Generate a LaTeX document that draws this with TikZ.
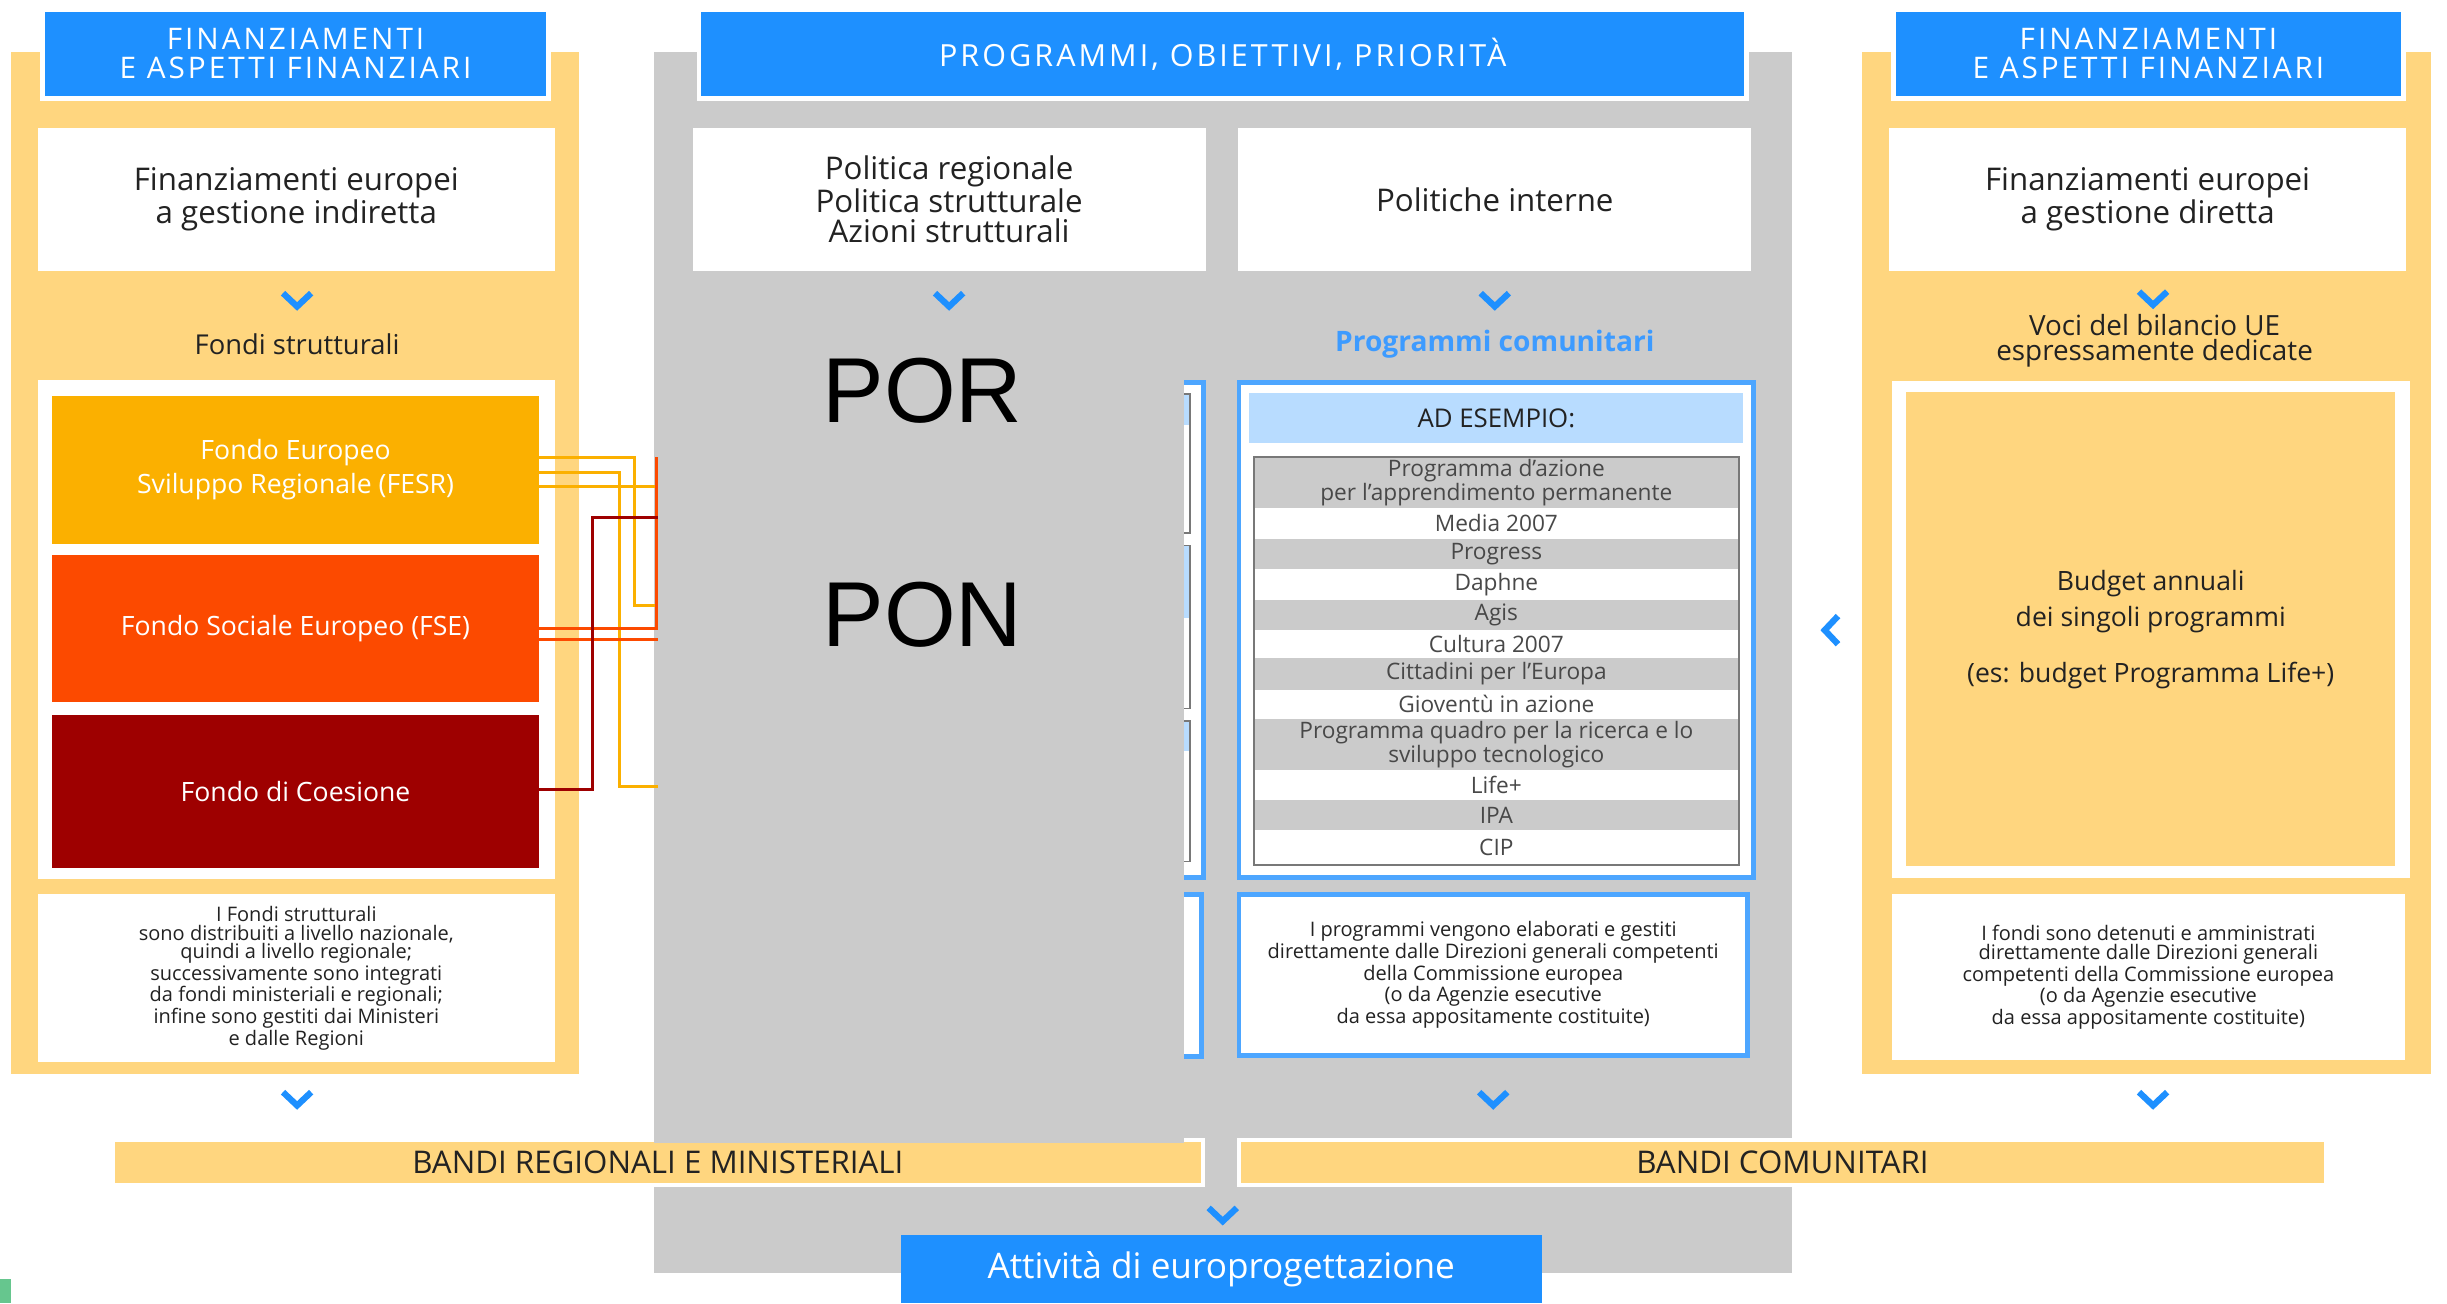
\documentclass[tikz,border=0pt]{standalone}
\usepackage{fontspec}
\setmainfont{Open Sans}
\newfontfamily\titfont[LetterSpace=10]{Open Sans}
\newfontfamily\porfont{Liberation Sans}
\usepackage{tikz}
\usetikzlibrary{positioning,calc}
\definecolor{giallo}{RGB}{255,214,127}
\definecolor{blu}{RGB}{30,144,255}
\definecolor{grigio}{RGB}{203,203,203}
\definecolor{cFesr}{RGB}{251,176,0}
\definecolor{cFse}{RGB}{252,74,0}
\definecolor{cCoes}{RGB}{158,0,0}
\definecolor{bluChiaro}{RGB}{77,166,255}
\definecolor{celeste}{RGB}{184,220,255}
\definecolor{testo}{RGB}{34,34,34}
\definecolor{bluTesto}{RGB}{61,155,255}
\definecolor{grigioBordo}{RGB}{120,120,120}
\definecolor{grigioTesto}{RGB}{72,72,72}
\definecolor{verde}{RGB}{102,198,142}
\newcommand{\fsz}[2]{\fontsize{#1}{#2}\selectfont}
\tikzstyle{header}=[fill=blu, draw=white, line width=3pt, text=white,
                    align=center, inner sep=0pt, outer sep=0pt,
                    font=\titfont\fsz{19}{18.6}]
\tikzstyle{wbox}  =[fill=white, inner sep=0pt, outer sep=0pt, align=center,
                    text=testo, font=\fsz{20}{19.5}]
\tikzstyle{etich} =[inner sep=0pt, align=center, text=testo,
                    font=\fsz{17.5}{16}]
\tikzstyle{fondo} =[inner sep=0pt, outer sep=0pt, align=center, text=white,
                    minimum width=312, font=\fsz{17}{22}]
\tikzstyle{nota}  =[fill=white, inner sep=0pt, outer sep=0pt, align=center,
                    text=testo, font=\fsz{12.8}{12}]
\tikzstyle{bframe}=[draw=bluChiaro, line width=3pt, fill=white]
\tikzstyle{chevron}=[draw=blu, line width=4pt, line join=miter]
\tikzstyle{link}  =[line width=2pt]
\tikzstyle{bando} =[fill=giallo, draw=white, line width=2.5pt, inner sep=0pt,
                    outer sep=0pt, text=testo, font=\fsz{20}{20}]
\tikzstyle{riga}  =[inner sep=0pt, align=center, text=grigioTesto,
                    font=\fsz{14.5}{11.5}]

\begin{document}
\begin{tikzpicture}[x=1pt,y=-1pt]
    \useasboundingbox (0,0) rectangle (1565,833.35);
    \fill[white] (0,0) rectangle (1565,833.35);

    % pannelli di sfondo
    \fill[giallo] (7,33) rectangle (370,687);
    \fill[giallo] (1191,33) rectangle (1555,687);
    \fill[grigio] (418,33) rectangle (1146,814);

    \draw (189,34.5) node(hdrL)[header, minimum width=324, minimum height=57]{FINANZIAMENTI\\E ASPETTI FINANZIARI};
    \draw (782,34.5) node(hdrC)[header, minimum width=670, minimum height=57, font=\titfont\fsz{19.5}{19}]{PROGRAMMI, OBIETTIVI, PRIORITÀ};
    \draw (1374,34.5) node(hdrR)[header, minimum width=326, minimum height=57]{FINANZIAMENTI\\E ASPETTI FINANZIARI};

    \draw (189.5,127.5) node(indiretta)[wbox, minimum width=331, minimum height=91]{Finanziamenti europei\\a gestione indiretta};
    \draw (607,127.5) node(polreg)[wbox, minimum width=328, minimum height=91]{Politica regionale\\Politica strutturale\\Azioni strutturali};
    \draw (956,127.5) node(polint)[wbox, minimum width=328, minimum height=91]{Politiche interne};
    \draw (1373.5,127.5) node(diretta)[wbox, minimum width=331, minimum height=91]{Finanziamenti europei\\a gestione diretta};

    \draw (190,220) node(fondi)[etich]{Fondi strutturali};
    \draw (956,220) node(progcom)[etich, text=bluTesto, font=\bfseries\fsz{18}{18}]{Programmi comunitari};
    \draw (1378,218) node(voci)[etich, font=\fsz{17.8}{16}]{Voci del bilancio UE\\espressamente dedicate};

    % fondi strutturali
    \fill[white] (24,243) rectangle (355,562);
    \draw (189,300.5) node(fesr)[fondo, fill=cFesr, minimum height=95]{Fondo Europeo\\Sviluppo Regionale (FESR)};
    \draw (189,402) node(fse)[fondo, fill=cFse, minimum height=94]{Fondo Sociale Europeo (FSE)};
    \draw (189,506) node(coesione)[fondo, fill=cCoes, minimum height=98]{Fondo di Coesione};

    \draw (189.5,625.5) node(notaL)[nota, minimum width=331, minimum height=107]{I Fondi strutturali\\sono distribuiti a livello nazionale,\\quindi a livello regionale;\\successivamente sono integrati\\da fondi ministeriali e regionali;\\infine sono gestiti dai Ministeri\\e dalle Regioni};

    % budget
    \fill[white] (1210,243.5) rectangle (1541,561.5);
    \draw (1375.5,402.5) node(budget)[wbox, fill=giallo, minimum width=313, minimum height=303, font=\fsz{17}{23}]{Budget annuali\\dei singoli programmi\\[13pt](es: budget Programma Life+)};
    \draw (1374,625) node(notaR)[nota, minimum width=328, minimum height=106]{I fondi sono detenuti e amministrati\\direttamente dalle Direzioni generali\\competenti della Commissione europea\\(o da Agenzie esecutive\\da essa appositamente costituite)};

    % programmi comunitari
    \draw (957,402.75) node(esempio)[bframe, minimum width=329, minimum height=316.5]{};
    \draw (957,267.5) node(adhead)[fill=celeste, inner sep=0pt, minimum width=316, minimum height=32, text=testo, font=\fsz{16.5}{16}]{AD ESEMPIO:};
    \foreach \ya/\yb/\tinta/\voce [count=\i] in {
        292/325/grigio/{Programma d’azione\\per l’apprendimento permanente},
        325/344.5/white/Media 2007, 344.5/364/grigio/Progress,
        364/383.5/white/Daphne, 383.5/403/grigio/Agis,
        403/421/white/Cultura 2007, 421/441/grigio/Cittadini per l’Europa,
        441/460/white/Gioventù in azione,
        460/492.5/grigio/{Programma quadro per la ricerca e lo\\sviluppo tecnologico},
        492.5/511.5/white/Life+, 511.5/531/grigio/IPA, 531/553/white/CIP}
    {
        \fill[\tinta] (802,\ya) rectangle (1112,\yb);
        \draw (957,{(\ya+\yb)/2}) node(riga\i)[riga]{\voce};
    }
    \draw[grigioBordo, line width=1.2pt] (802,292) rectangle (1112,553);

    \draw (955,623.5) node(notaC)[nota, draw=bluChiaro, line width=3pt, minimum width=325, minimum height=103]{I programmi vengono elaborati e gestiti\\direttamente dalle Direzioni generali competenti\\della Commissione europea\\(o da Agenzie esecutive\\da essa appositamente costituite)};

    % riquadro coperto a sinistra
    \draw[bframe] (444.5,244.5) rectangle (769.5,561);
    \foreach \ya/\yb/\yc in {252/341/272, 349/453/395, 461/551/480}
    {
        \fill[white] (452,\ya) rectangle (761,\yb);
        \fill[celeste] (452,\ya) rectangle (761,\yc);
        \draw[grigioBordo, line width=1pt] (452,\ya) rectangle (761,\yb);
    }
    \draw[bframe] (444.5,572) rectangle (768.5,675.5);

    % bandi
    \draw (420.75,743.5) node(bandiReg)[bando, minimum width=697.5, minimum height=29]{BANDI REGIONALI E MINISTERIALI};
    \draw (1140,743.5) node(bandiCom)[bando, minimum width=695, minimum height=29]{BANDI COMUNITARI};

    \fill[grigio] (418,235) rectangle (757,731);
    \draw (590,250) node(por)[inner sep=0pt, font=\porfont\fsz{59}{59}]{POR};
    \draw (590,393) node(pon)[inner sep=0pt, font=\porfont\fsz{59}{59}]{PON};

    \draw (781,811.7) node(attivita)[fill=blu, inner sep=0pt, minimum width=410, minimum height=43.3, text=white, font=\fsz{22.5}{22}]{Attività di europrogettazione};

    % collegamenti dei fondi
    \coordinate (b1) at (406,387);  \coordinate (e1) at (421,387);
    \coordinate (b2) at (396,503);  \coordinate (e2) at (421,503);
    \coordinate (e3) at (421,311);
    \coordinate (f1) at (420,292);  \coordinate (e5) at (421,409);
    \coordinate (b6) at (379,331);  \coordinate (e6) at (421,331);

    \draw[link,cFesr] ([yshift=8pt]fesr.east) -| (b1) -- (e1);
    \draw[link,cFesr] ([yshift=-1.5pt]fesr.east) -| (b2) -- (e2);
    \draw[link,cFesr] ([yshift=-10.5pt]fesr.east) -- (e3);
    \draw[link,cFse] (fse.east) -| (f1);
    \draw[link,cFse] ([yshift=-7pt]fse.east) -- (e5);
    \draw[link,cCoes] ([yshift=1pt]coesione.east) -| (b6) -- (e6);

    % frecce
    \foreach \x/\y in {190/192, 607/192, 956/192, 1377/191, 190/703, 955/703, 1377/703, 782/777}
        \draw[chevron] ({\x-9},{\y-4.5}) -- (\x,{\y+4}) -- ({\x+9},{\y-4.5});
    \draw[chevron] (1175.5,394) -- (1167,403) -- (1175.5,412);

    \fill[verde] (0,818) rectangle (7,833.35);
\end{tikzpicture}
\end{document}
